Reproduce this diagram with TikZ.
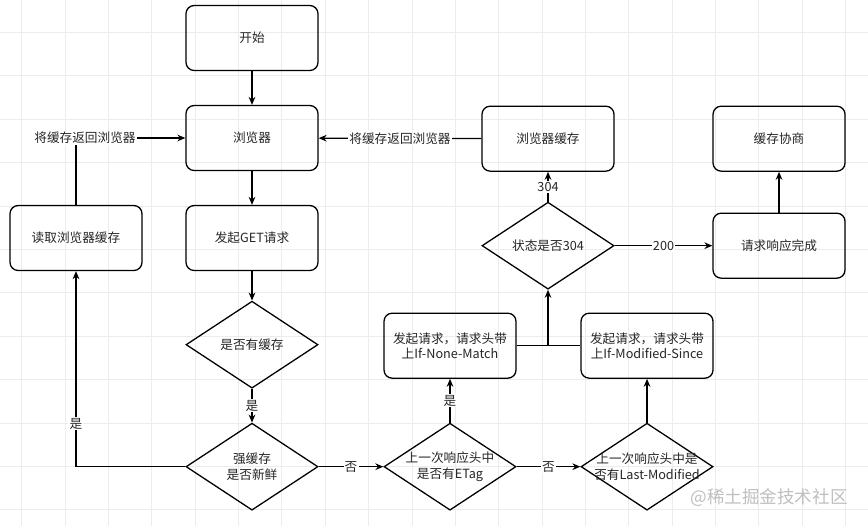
\documentclass[tikz,border=0pt]{standalone}
\usepackage{fontspec}
\setmainfont{Noto Sans CJK SC}
\usetikzlibrary{shapes.geometric, arrows.meta, positioning}

\begin{document}
\begin{tikzpicture}[x=0.03cm, y=-0.03cm, node distance=3cm,
    font=\fontsize{10.8}{13}\selectfont,
    block/.style={rectangle, draw, line width=1.1pt, rounded corners=7pt, minimum width=3.96cm, minimum height=1.95cm, align=center, text=black!85},
    decision/.style={diamond, draw, line width=1.1pt, minimum width=3.96cm, minimum height=2.61cm, inner sep=0pt},
    dtext/.style={align=center, text=black!85},
    arrow/.style={line width=1.1pt, -{Stealth[length=2.4mm, width=2mm]}},
    line/.style={line width=1.1pt},
    tag/.style={fill=white, inner sep=1pt, text=black!85},
    gridline/.style={gray!15, line width=0.6pt}]

    \useasboundingbox (0,0) rectangle (868,526);
    \fill[white] (0,0) rectangle (868,526);
    % background grid
    \foreach \gx in {0,...,19}
        \draw[gridline] ({21.7+43.35*\gx},0) -- ++(0,526);
    \foreach \gy in {0,...,11}
        \draw[gridline] (0,{32.4+43.4*\gy}) -- ++(868,0);

    \node [block] (start) at (252,38) {开始};
    \node [block, below of=start] (browser) {浏览器};
    \node [block, below of=browser] (request) {发起GET请求};
    \node [block, left of=request, xshift=-2.28cm] (read) {读取浏览器缓存};
    \node [decision, below of=request, yshift=-0.2cm, label={[dtext]center:是否有缓存}] (hascache) {};
    \node [decision, below of=hascache, yshift=-0.66cm, label={[dtext]center:强缓存\\是否新鲜}] (fresh) {};
    \node [decision, right of=fresh, xshift=2.94cm, label={[dtext]center:上一次响应头中\\是否有ETag}] (etag) {};
    \node [decision, right of=etag, xshift=2.91cm, label={[dtext]center:上一次响应头中是\\否有Last-Modified}] (lastmod) {};
    \node [block, above of=etag, yshift=0.63cm] (nonematch) {发起请求，请求头带\\上If-None-Match};
    \node [block, above of=lastmod, yshift=0.63cm] (modsince) {发起请求，请求头带\\上If-Modified-Since};
    \node [decision, above of=nonematch, xshift=2.94cm, label={[dtext]center:状态是否304}] (status) {};
    \node [block, above of=status, yshift=0.21cm] (bcache) {浏览器缓存};
    \node [block, right of=status, xshift=3.93cm] (done) {请求响应完成};
    \node [block, above of=done, yshift=0.21cm] (nego) {缓存协商};

    \draw [arrow] (start) -- (browser);
    \draw [arrow] (browser) -- (request);
    \draw [arrow] (request) -- (hascache);
    \draw [arrow] (hascache) -- node[tag] {是} (fresh);
    \draw [arrow] (fresh.west) -| node[tag, pos=0.61] {是} (read.south);
    \draw [arrow] (read.north) |- node[tag, pos=0.5, xshift=0.27cm] {将缓存返回浏览器} (browser.west);
    \draw [arrow] (fresh) -- node[tag] {否} (etag);
    \draw [arrow] (etag) -- node[tag] {否} (lastmod);
    \draw [arrow] (etag) -- node[tag] {是} (nonematch);
    \draw [arrow] (lastmod) -- (modsince);
    \draw [line] (nonematch) -- (modsince);
    \draw [arrow] (status |- nonematch) -- (status.south);
    \draw [arrow] (status) -- node[tag] {304} (bcache);
    \draw [arrow] (status) -- node[tag] {200} (done);
    \draw [arrow] (bcache) -- node[tag] {将缓存返回浏览器} (browser);
    \draw [arrow] (done) -- (nego);

    \node [text=gray!50, font=\fontsize{15}{18}\selectfont] (mark) at (769,498) {@稀土掘金技术社区};
\end{tikzpicture}
\end{document}
